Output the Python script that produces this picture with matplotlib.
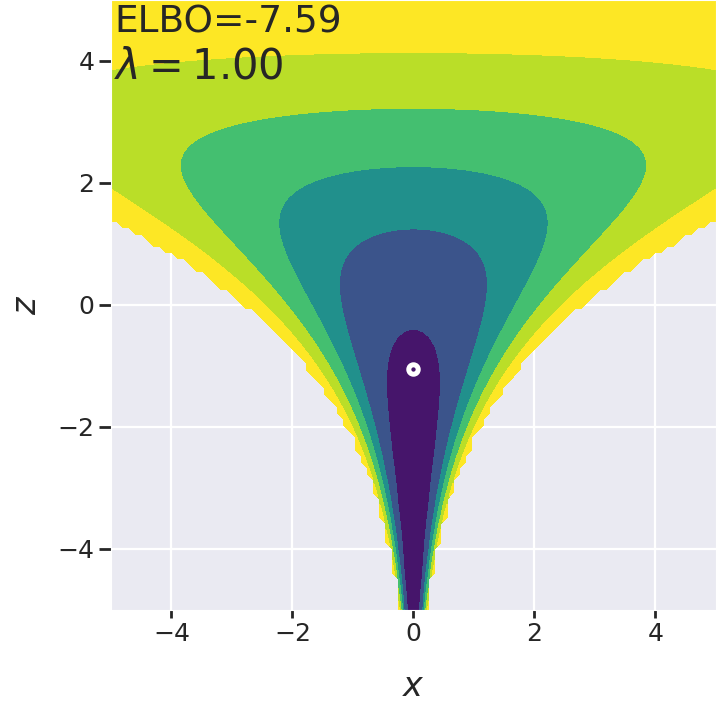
import numpy as np
import matplotlib
matplotlib.use('Agg')
import matplotlib.pyplot as plt
import seaborn as sns

#%% datos del grafico
# niveles de la energia U = -log p (sin constante) del embudo de Neal
niveles = [-1.5, -0.19, 0.71, 1.42, 2.19, 3.02, 4.07]
colores = ['#46156b', '#3b548b', '#21908c', '#44bf70', '#bade28', '#fde725']
corte = 4.07          # por encima de esto la grilla queda vacia (nan)
n_grilla = 100
mu_q = [0.0, -1.05]   # media de q
elbo = -7.59
lam = 1.00
ticks = [-4, -2, 0, 2, 4]

#%% estilo
sns.set_style('darkgrid')
plt.rcParams['font.family'] = ['DejaVu Sans']
plt.rcParams['grid.linewidth'] = 1.6

#%% grilla
xs = np.linspace(-5, 5, n_grilla)
zs = np.linspace(-5, 5, n_grilla)
X, Z = np.meshgrid(xs, zs)
U = Z**2 / 18 + Z / 2 + X**2 / (2 * np.exp(Z))
U[U > corte] = np.nan

fig = plt.figure(figsize=(7.18, 7.03), dpi=100)
ax = fig.add_axes([0.1546, 0.1323, 0.8424, 0.8677])
ax.contourf(X, Z, U, levels=niveles, colors=colores)
ax.plot(mu_q[0], mu_q[1], 'o', mfc='none', mec='white', ms=6.8, mew=3.6)

ax.set_xlim(-5, 5)
ax.set_ylim(-5, 5)
ax.set_xticks(ticks)
ax.set_yticks(ticks)
ax.tick_params(labelsize=18, width=2, color='#262626',
               left=True, bottom=True)
ax.tick_params(axis='x', length=6, pad=3)
ax.tick_params(axis='y', length=9, pad=3)
ax.set_xlabel('$x$', fontsize=24, labelpad=17)
ax.set_ylabel('$z$', fontsize=24, labelpad=10)
ax.text(0.005, 0.946, 'ELBO=%.2f' % elbo, transform=ax.transAxes,
        va='baseline', ha='left', fontsize=27, color='#262626')
ax.text(0.005, 0.872, '$\\lambda = %.2f$' % lam, transform=ax.transAxes,
        va='baseline', ha='left', fontsize=30, color='#262626')

fig.savefig('out.png', dpi=100)
